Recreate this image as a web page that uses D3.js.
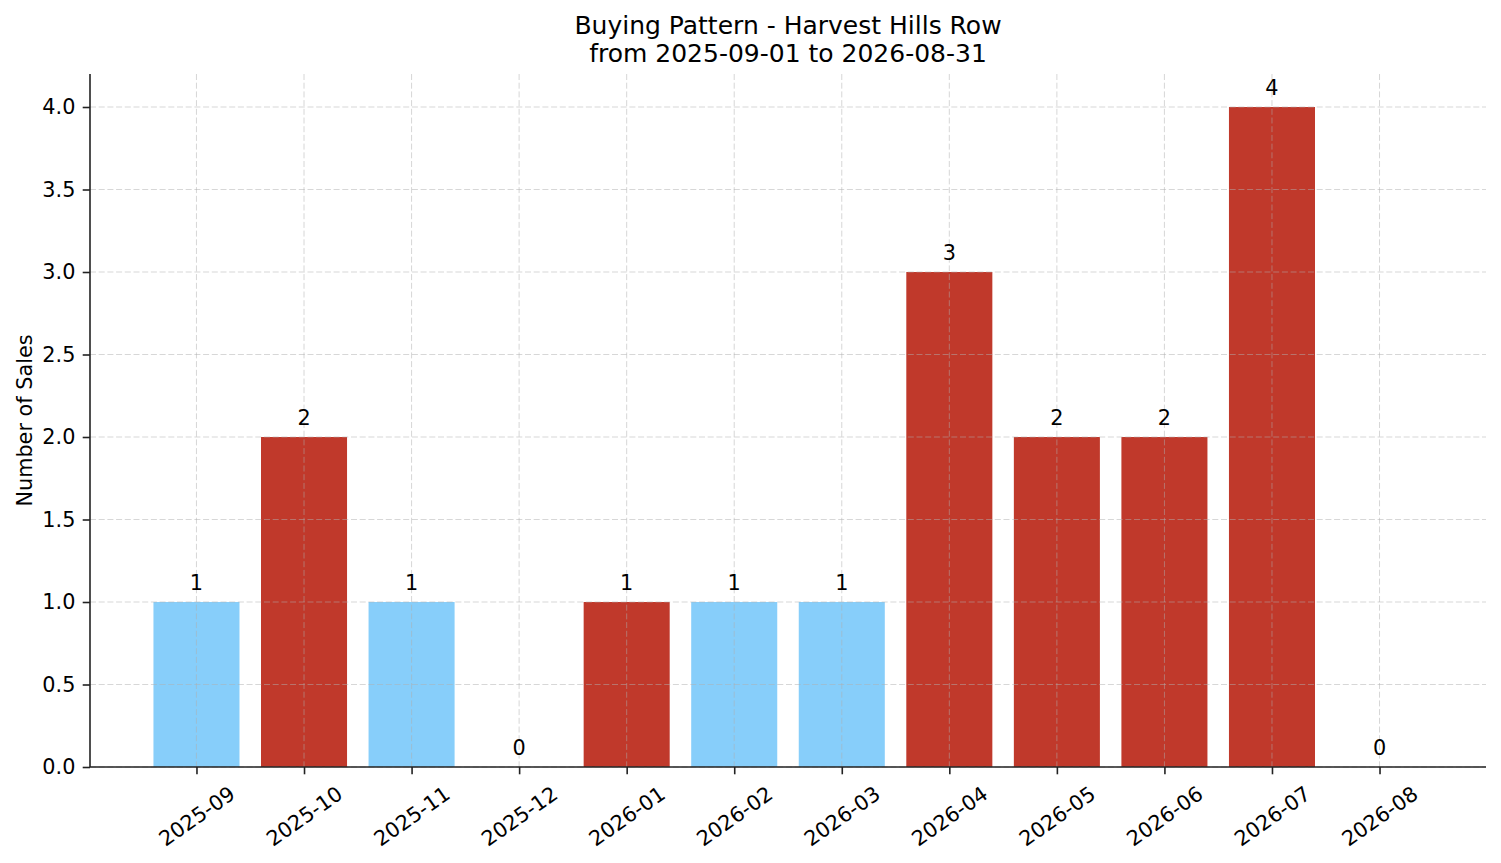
<!DOCTYPE html>
<html>
<head>
<meta charset="utf-8">
<script src="https://cdn.jsdelivr.net/npm/d3@7"></script>
<style>
  html, body { margin: 0; padding: 0; background: #fff; }
  svg { display: block; font-family: "DejaVu Sans", sans-serif; }
</style>
</head>
<body>
<svg id="chart" width="1501" height="863"></svg>
<script>
const months = ["2025-09", "2025-10", "2025-11", "2025-12", "2026-01", "2026-02",
                "2026-03", "2026-04", "2026-05", "2026-06", "2026-07", "2026-08"];
const sales = [1, 2, 1, 0, 1, 1, 1, 3, 2, 2, 4, 0];
const barColors = ["#87CEFA", "#C0392B", "#87CEFA", "#87CEFA", "#C0392B", "#87CEFA",
                   "#87CEFA", "#C0392B", "#C0392B", "#C0392B", "#C0392B", "#87CEFA"];
const yTicks = [0, 0.5, 1, 1.5, 2, 2.5, 3, 3.5, 4];
const titleLines = ["Buying Pattern - Harvest Hills Row", "from 2025-09-01 to 2026-08-31"];

const svg = d3.select("#chart");
const plotL = 90, plotR = 1486, plotT = 74, plotB = 767;
const tickLen = 7.3, pad = 7.3, fs = 20.8, rot = 35;

const x = d3.scaleLinear().domain([-0.99, 11.99]).range([plotL, plotR]);
const y = d3.scaleLinear().domain([0, 4.2]).range([plotB, plotT]);
const barW = x(0.4) - x(-0.4);

// bars
svg.append("g").selectAll("rect")
    .data(sales)
    .enter()
    .append("rect")
    .attr("x", (d, i) => x(i) - barW / 2)
    .attr("y", (d) => y(d))
    .attr("width", barW)
    .attr("height", (d) => y(0) - y(d))
    .attr("fill", (d, i) => barColors[i]);

// grid on top of bars, like matplotlib does
const grid = svg.append("g")
    .attr("stroke", "#b0b0b0")
    .attr("stroke-opacity", 0.5)
    .attr("stroke-width", 1)
    .attr("stroke-dasharray", "6,2.7");
grid.selectAll(".gy").data(yTicks).enter().append("line")
    .attr("x1", plotL).attr("x2", plotR)
    .attr("y1", (d) => y(d)).attr("y2", (d) => y(d));
grid.selectAll(".gx").data(months).enter().append("line")
    .attr("y1", plotT).attr("y2", plotB)
    .attr("x1", (d, i) => x(i)).attr("x2", (d, i) => x(i));

// y axis
const yAxis = svg.append("g")
    .attr("transform", "translate(" + plotL + ",0)")
    .call(d3.axisLeft(y).tickValues(yTicks).tickFormat(d3.format(".1f"))
        .tickSize(tickLen).tickPadding(pad).tickSizeOuter(0));
yAxis.select(".domain").attr("d", "M0," + plotT + "V" + plotB);

// x axis
const xAxis = svg.append("g")
    .attr("transform", "translate(0," + plotB + ")")
    .call(d3.axisBottom(x).tickValues(d3.range(months.length)).tickFormat((i) => months[i])
        .tickSize(tickLen).tickSizeOuter(0));
xAxis.select(".domain").attr("d", "M" + plotL + ",0H" + plotR);

svg.selectAll(".domain, .tick line").attr("stroke", "#222").attr("stroke-width", 1.6);
svg.selectAll(".tick text").attr("font-size", fs).attr("font-family", "DejaVu Sans").attr("fill", "#000");

// rotate x labels around their centre, top of rotated box below the tick
const a = rot * Math.PI / 180;
xAxis.selectAll(".tick text").each(function () {
    const t = d3.select(this);
    const L = this.getComputedTextLength();
    const h = fs * 1.16;
    const H = L * Math.sin(a) + h * Math.cos(a);
    t.attr("y", 0).attr("dy", null)
     .attr("text-anchor", "middle")
     .attr("dominant-baseline", "central")
     .attr("transform", "translate(0," + (tickLen + pad + H / 2) + ") rotate(" + (-rot) + ")");
});

// value labels
svg.append("g").selectAll("text")
    .data(sales)
    .enter()
    .append("text")
    .attr("x", (d, i) => x(i))
    .attr("y", (d) => y(d) - 12)
    .attr("text-anchor", "middle")
    .attr("font-size", fs)
    .text((d) => d);

// y label
svg.append("text")
    .attr("transform", "translate(32," + (plotT + plotB) / 2 + ") rotate(-90)")
    .attr("text-anchor", "middle")
    .attr("font-size", fs)
    .text("Number of Sales");

// title
svg.append("g").selectAll("text")
    .data(titleLines)
    .enter()
    .append("text")
    .attr("x", (plotL + plotR) / 2)
    .attr("y", (d, i) => 34 + i * 28)
    .attr("text-anchor", "middle")
    .attr("font-size", 25)
    .text((d) => d);
</script>
</body>
</html>
